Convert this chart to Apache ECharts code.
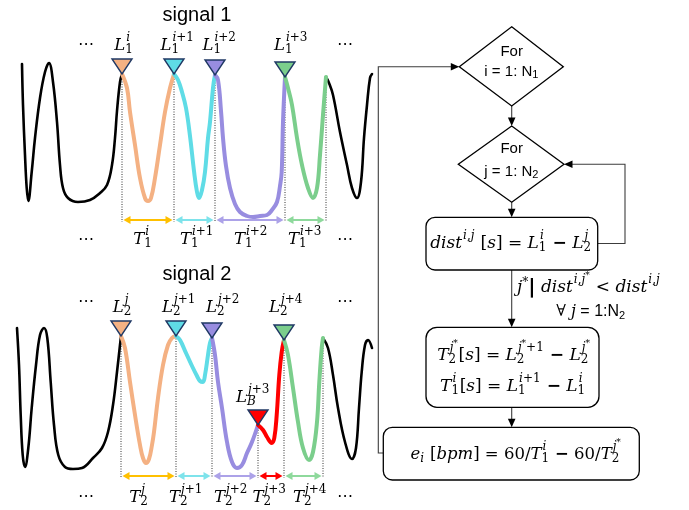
<!DOCTYPE html>
<html><head><meta charset="utf-8">
<script src="https://cdn.jsdelivr.net/npm/echarts@6.0.0/dist/echarts.min.js"></script>
<style>html,body{margin:0;padding:0;background:#fff;}#chart{width:689px;height:510px;}</style>
</head><body><div id="chart"></div>
<script>
// ================= DATA =================
// signal 1 : [time, amplitude]
const sig1Black1 = [[22,152],[23,111],[25,61],[26.7,28],[28.3,15],[31.7,44],[35,78],[40,118],[45,144],[49,153],[53,134],[57,94],[60,51],[63,28],[68,18],[78,14],[90,16],[100,23],[107,31],[112,51],[115,78],[117,105],[120,134],[122,142]];
const sig1Orange = [[122,142],[127,128],[130,104],[135,71],[140,38],[145,18],[148,15],[151,18],[155,38],[160,71],[165,104],[170,128],[174,142]];
const sig1Cyan   = [[174,142],[178,136],[182,124],[186,108],[190,80],[194,45],[197,24],[199,18],[202,26],[205,44],[208,78],[210,94],[213,128],[215,141]];
const sig1Purple = [[215,141],[218,136],[221,105],[223,78],[226,50],[230,28],[235,12],[240,4],[247,0],[253,-1],[260,0],[267,1],[272,6],[277,14],[280,30],[281.7,44],[283,94],[285,139]];
const sig1Green  = [[285,139],[288,128],[292,111],[297,78],[302,51],[308,28],[313,18],[317,28],[320,61],[323,101],[326,139]];
const sig1Black2 = [[326,139],[329,133],[333,121],[340,84],[347,51],[352,28],[357,18],[361,34],[364,78],[367,111],[370,138],[372,142]];
const sig1Peaks = [[122,142],[174,142],[215,141],[285,139]];
const sig1PeakLabels = ['L_{1}^{i}','L_{1}^{i+1}','L_{1}^{i+2}','L_{1}^{i+3}'];
const sig1Intervals = [[122,174],[174,215],[215,285],[285,326]];
const sig1IntervalLabels = ['T_{1}^{i}','T_{1}^{i+1}','T_{1}^{i+2}','T_{1}^{i+3}'];
const sig1Guides = [[122,142],[174,142],[215,141],[285,139],[326,139]];
const sig1Colors = ['orange','cyan','purple','green'];

// signal 2 : [time, amplitude]
const sig2Black1 = [[17,142],[19,105],[20.7,55],[22.7,15],[25,3],[28.3,22],[31.7,62],[36,105],[40,135],[44,142],[47.3,132],[50.7,88],[54,45],[58.3,15],[65,3],[73,1],[82,2],[93,12],[102,22],[108,38],[113,65],[117,98],[120,125],[121,134]];
const sig2Orange = [[121,134],[125,122],[130,88],[135,55],[140,25],[143,12],[146,7],[149,11],[152,25],[154,38],[158,72],[163,105],[168,125],[172,132],[176,134]];
const sig2Cyan   = [[176,134],[180,130],[186,117],[192,104],[197,94],[200,89],[203,88],[205,95],[208,115],[210,127],[212,132]];
const sig2Purple = [[212,132],[215,115],[218,88],[222,62],[227,28],[232,8],[237,2],[242,5],[247,17],[252,28],[258,45]];
const sig2Red    = [[258,45],[263,40],[267,33],[271.7,27],[274.3,32],[276.7,55],[279.3,95],[281.7,118],[284,130]];
const sig2Green  = [[284,130],[288,115],[293,82],[298,48],[303,22],[309,10],[313,18],[317,48],[319.3,88],[321.7,122],[323,132]];
const sig2Black2 = [[323,132],[328,122],[333,95],[338,62],[345,28],[352,11],[356,22],[359,62],[361.7,98],[365,125],[368,130],[372,122]];
const sig2Peaks = [[121,134],[176,134],[212,132],[258,45],[284,130]];
const sig2PeakLabels = ['L_{2}^{j}','L_{2}^{j+1}','L_{2}^{j+2}','L_{B}^{j+3}','L_{2}^{j+4}'];
const sig2Intervals = [[121,176],[176,212],[212,258],[258,284],[284,323]];
const sig2IntervalLabels = ['T_{2}^{j}','T_{2}^{j+1}','T_{2}^{j+2}','T_{2}^{j+3}','T_{2}^{j+4}'];
const sig2Guides = [[121,134],[176,134],[212,132],[258,45],[284,130],[323,132]];
const sig2Colors = ['orange','cyan','purple','red','green'];

// flowchart texts
const fcLoop1 = ['For', 'i = 1: N_{1}'];
const fcLoop2 = ['For', 'j = 1: N_{2}'];
const fcDist = 'dist^{i,j} [s] = L_{1}^{i} − L_{2}^{j}';
const fcCond = ['j*| dist^{i,j*} < dist^{i,j}', '∀ j§ = 1:N_{2}'];
const fcPeriods = ['T_{2}^{j*}[s] = L_{2}^{j*+1} − L_{2}^{j*}', 'T_{1}^{i}[s] = L_{1}^{i+1} − L_{1}^{i}'];
const fcError = 'e_{i} [bpm] = 60/T_{1}^{i} − 60/T_{2}^{j*}';

// ================= LAYOUT / STYLE =================
const sig1PeakLabelPos = [[124,170],[177.5,170],[219.5,170],[291,170]];
const sig1IntervalLabelPos = [[143,-24],[197,-24],[251,-24],[305,-24]];
const sig1Dots = [[86,171],[345,171],[86,-24],[345,-24]];
const sig2PeakLabelPos = [[122.5,162],[179,162],[223,162],[253,72],[286,162]];
const sig2IntervalLabelPos = [[139,-28],[186,-28],[231,-28],[269.5,-28],[310,-28]];
const sig2Dots = [[86,168],[345,168],[86,-27],[345,-27]];

const SEG = {orange:'#F4B183', cyan:'#5FDCE6', purple:'#988DE0', green:'#7BCE8C', red:'#FF0000'};
const ARROW = {orange:'#FFC000', cyan:'#7EE3EB', purple:'#ACA2E8', green:'#8ED99C', red:'#FF0000'};
const SERIF = '"DejaVu Serif"', SANS = '"Liberation Sans"';

// ---------- math text builder ----------
const mctx = document.createElement('canvas').getContext('2d');
function tw(t, f){ mctx.font = f; return mctx.measureText(t).width; }
function fontOf(c, size, sans){
  if (c === '|') return 'bold ' + Math.round(size*1.2) + 'px "DejaVu Sans"';
  if (c === '−') return 'bold ' + size + 'px ' + SERIF;
  if (sans) return size + 'px ' + SANS;
  if (/[A-Za-z]/.test(c)) return 'italic ' + size + 'px ' + SERIF;
  return size + 'px ' + SERIF;
}
function layoutRun(src, size, x0, y0, out, st){
  let x = x0, run = '', rf = null, ry = y0;
  const flush = () => { if (run) { out.push({text:run, font:rf, x:x, y:ry}); x += tw(run, rf); run = ''; } };
  for (const c of src){
    if (c === '§'){ flush(); st.sans = !st.sans; rf = null; continue; }
    let f, y = y0;
    if (c === '*'){ f = Math.round(size*0.72) + 'px ' + SERIF; y = y0 - size*0.32; }
    else f = fontOf(c, size, st.sans);
    if (f !== rf || y !== ry){ flush(); rf = f; ry = y; }
    run += c;
  }
  flush();
  return x - x0;
}
function buildMath(src, size, sans){
  const st = {sans: !!sans}; const out = []; let x = 0, buf = '', i = 0;
  const ss = Math.round(size*0.7);
  const flushBase = () => { if (buf){ x += layoutRun(buf, size, x, 0, out, st); buf = ''; } };
  while (i < src.length){
    const c = src[i];
    if (c === '_' || c === '^'){
      flushBase();
      let sub = null, sup = null;
      while (i < src.length && (src[i] === '_' || src[i] === '^')){
        const k = src[i++]; let g;
        if (src[i] === '{'){ const j = src.indexOf('}', i); g = src.slice(i+1, j); i = j+1; }
        else g = src[i++];
        if (k === '_') sub = g; else sup = g;
      }
      let w1 = 0, w2 = 0;
      if (sup) w1 = layoutRun(sup, ss, x + size*0.06, -size*0.5, out, {sans: st.sans}) + size*0.06;
      if (sub) w2 = layoutRun(sub, ss, x, size*0.22, out, {sans: st.sans});
      x += Math.max(w1, w2) + size*0.04;
      continue;
    }
    buf += c; i++;
  }
  flushBase();
  return {els: out, width: x};
}
function mathEls(src, size, px, py, align, sans){
  const m = buildMath(src, size, sans);
  const x0 = align === 'left' ? px : (align === 'right' ? px - m.width : px - m.width/2);
  return m.els.map(e => ({type:'text', x: x0 + e.x, y: py + e.y, silent:true,
    style:{text:e.text, font:e.font, fill:'#000', textAlign:'left', textVerticalAlign:'middle', align:'left', verticalAlign:'middle'}}));
}

// ---------- series builders ----------
function seg(gi, data, color, width, z){
  return {type:'line', xAxisIndex:gi, yAxisIndex:gi, data:data, smooth:0.4, symbol:'none', showSymbol:false, silent:true, z:z,
    lineStyle:{color:color, width:width, cap:'round', join:'round'}};
}
function guideSeries(gi, data, yBottom){
  return {type:'custom', xAxisIndex:gi, yAxisIndex:gi, silent:true, z:1, data:data,
    renderItem:(p, api) => { const t = api.coord([api.value(0), api.value(1)]), b = api.coord([api.value(0), yBottom]);
      return {type:'line', shape:{x1:t[0], y1:t[1], x2:b[0], y2:b[1]}, style:{stroke:'#333', lineWidth:1, lineDash:[1,1.5]}}; }};
}
function markerSeries(gi, data, colors){
  return {type:'custom', xAxisIndex:gi, yAxisIndex:gi, silent:true, z:6, data:data,
    renderItem:(p, api) => { const c = api.coord([api.value(0), api.value(1)]);
      return {type:'polygon', shape:{points:[[c[0]-10, c[1]-15],[c[0]+10, c[1]-15],[c[0], c[1]]]},
        style:{fill:SEG[colors[p.dataIndex]], stroke:'#1F3864', lineWidth:1.4, lineJoin:'miter'}}; }};
}
function intervalSeries(gi, data, yv, colors){
  return {type:'custom', xAxisIndex:gi, yAxisIndex:gi, silent:true, z:5, data:data.map(d => [d[0], d[1], yv]), encode:{x:[0,1], y:2},
    renderItem:(p, api) => { const a = api.coord([api.value(0), api.value(2)]), b = api.coord([api.value(1), api.value(2)]);
      const col = ARROW[colors[p.dataIndex]]; const x1 = a[0]+1.5, x2 = b[0]-1.5, y = a[1], L = 7, H = 4;
      return {type:'group', children:[
        {type:'line', shape:{x1:x1+L-1, y1:y, x2:x2-L+1, y2:y}, style:{stroke:col, lineWidth:2}},
        {type:'polygon', shape:{points:[[x1,y],[x1+L,y-H],[x1+L,y+H]]}, style:{fill:col}},
        {type:'polygon', shape:{points:[[x2,y],[x2-L,y-H],[x2-L,y+H]]}, style:{fill:col}}]}; }};
}
function labelSeries(gi, pos, texts, size){
  return {type:'custom', xAxisIndex:gi, yAxisIndex:gi, silent:true, z:7, data:pos,
    renderItem:(p, api) => { const c = api.coord([api.value(0), api.value(1)]);
      return {type:'group', children: mathEls(texts[p.dataIndex], size, c[0], c[1], 'center')}; }};
}
function dotsSeries(gi, pos){
  return {type:'custom', xAxisIndex:gi, yAxisIndex:gi, silent:true, z:7, data:pos,
    renderItem:(p, api) => { const c = api.coord([api.value(0), api.value(1)]);
      return {type:'text', x:c[0], y:c[1], style:{text:'⋯', font:'16px "DejaVu Sans"', fill:'#000', textAlign:'center', textVerticalAlign:'middle', align:'center', verticalAlign:'middle'}}; }};
}

const series = [
  guideSeries(0, sig1Guides, -6), guideSeries(1, sig2Guides, -8),
  seg(0, sig1Black1, '#000', 2.6, 2), seg(0, sig1Black2, '#000', 2.6, 2),
  seg(0, sig1Orange, SEG.orange, 4, 3), seg(0, sig1Cyan, SEG.cyan, 4, 3), seg(0, sig1Purple, SEG.purple, 4, 3), seg(0, sig1Green, SEG.green, 4, 3),
  seg(1, sig2Black1, '#000', 2.6, 2), seg(1, sig2Black2, '#000', 2.6, 2),
  seg(1, sig2Orange, SEG.orange, 4, 3), seg(1, sig2Cyan, SEG.cyan, 4, 3), seg(1, sig2Purple, SEG.purple, 4, 3), seg(1, sig2Red, SEG.red, 4, 3), seg(1, sig2Green, SEG.green, 4, 3),
  markerSeries(0, sig1Peaks, sig1Colors), markerSeries(1, sig2Peaks, sig2Colors),
  intervalSeries(0, sig1Intervals, -4, sig1Colors), intervalSeries(1, sig2Intervals, -6, sig2Colors),
  labelSeries(0, sig1PeakLabelPos, sig1PeakLabels, 16.5), labelSeries(0, sig1IntervalLabelPos, sig1IntervalLabels, 16.5),
  labelSeries(1, sig2PeakLabelPos, sig2PeakLabels, 16.5), labelSeries(1, sig2IntervalLabelPos, sig2IntervalLabels, 16.5),
  dotsSeries(0, sig1Dots), dotsSeries(1, sig2Dots)
];

// ---------- flowchart (graphic) ----------
const LN = '#3c3c3c';
const g = [];
function head(x, y, dir){
  const L = 8.5, H = 3.8; let pts;
  if (dir === 'down') pts = [[x,y],[x-H,y-L],[x+H,y-L]];
  else if (dir === 'right') pts = [[x,y],[x-L,y-H],[x-L,y+H]];
  else pts = [[x,y],[x+L,y-H],[x+L,y+H]];
  g.push({type:'polygon', shape:{points:pts}, style:{fill:'#000'}, z:10});
}
function pline(pts){ g.push({type:'polyline', shape:{points:pts}, style:{stroke:LN, lineWidth:1.1, fill:null}, z:9}); }
const CX = 511.7;
pline([[CX,106],[CX,124]]); head(CX,126,'down');
pline([[CX,202.3],[CX,215]]); head(CX,217.3,'down');
pline([[CX,270],[CX,325]]); head(CX,327.3,'down');
pline([[CX,407.3],[CX,425]]); head(CX,427.3,'down');
pline([[597.7,243.5],[625,243.5],[625,164.3],[566,164.3]]); head(564,164.3,'left');
pline([[383.3,453],[378.3,453],[378.3,66.7],[457,66.7]]); head(459.3,66.7,'right');
g.push({type:'polygon', shape:{points:[[CX,26.7],[563.3,66.7],[CX,106],[459.3,66.7]]}, style:{fill:'#fff', stroke:'#000', lineWidth:1.3}, z:11});
g.push({type:'polygon', shape:{points:[[CX,126],[564,164.3],[CX,202.3],[458.3,164.3]]}, style:{fill:'#fff', stroke:'#000', lineWidth:1.3}, z:11});
g.push({type:'rect', shape:{x:426, y:217.3, width:171.7, height:52.7, r:9}, style:{fill:'#fff', stroke:'#000', lineWidth:1.3}, z:11});
g.push({type:'rect', shape:{x:426, y:327.3, width:173, height:80, r:11}, style:{fill:'#fff', stroke:'#000', lineWidth:1.3}, z:11});
g.push({type:'rect', shape:{x:383.3, y:427.3, width:256, height:52.7, r:9}, style:{fill:'#fff', stroke:'#000', lineWidth:1.3}, z:11});
function txt(els){ els.forEach(e => { e.z = 12; g.push(e); }); }
txt(mathEls(fcLoop1[0], 15, CX, 51.5, 'center', true));
txt(mathEls(fcLoop1[1], 15, CX, 71.5, 'center', true));
txt(mathEls(fcLoop2[0], 15, CX, 149, 'center', true));
txt(mathEls(fcLoop2[1], 15, CX, 171.5, 'center', true));
txt(mathEls(fcDist, 17, 511, 244, 'center'));
txt(mathEls(fcCond[0], 17, 517, 288, 'left'));
txt(mathEls(fcCond[1], 16, 591, 312, 'center'));
txt(mathEls(fcPeriods[0], 17, 514, 356, 'center'));
txt(mathEls(fcPeriods[1], 17, 513, 387, 'center'));
txt(mathEls(fcError, 16.5, 516, 455, 'center'));

const option = {
  animation:false,
  backgroundColor:'#fff',
  title:[
    {text:'signal 1', left:197, top:5, textAlign:'center', padding:0, textStyle:{fontSize:20, fontWeight:'normal', fontFamily:'Liberation Sans', color:'#000'}},
    {text:'signal 2', left:197, top:264, textAlign:'center', padding:0, textStyle:{fontSize:20, fontWeight:'normal', fontFamily:'Liberation Sans', color:'#000'}}
  ],
  grid:[{left:0, top:0, width:689, height:250}, {left:0, top:250, width:689, height:260}],
  xAxis:[{type:'value', gridIndex:0, min:0, max:689, show:false}, {type:'value', gridIndex:1, min:0, max:689, show:false}],
  yAxis:[{type:'value', gridIndex:0, min:-34, max:216, show:false}, {type:'value', gridIndex:1, min:-40, max:220, show:false}],
  series: series,
  graphic: g
};
const chart = echarts.init(document.getElementById('chart'), null, {renderer:'canvas'});
chart.setOption(option);
</script></body></html>
